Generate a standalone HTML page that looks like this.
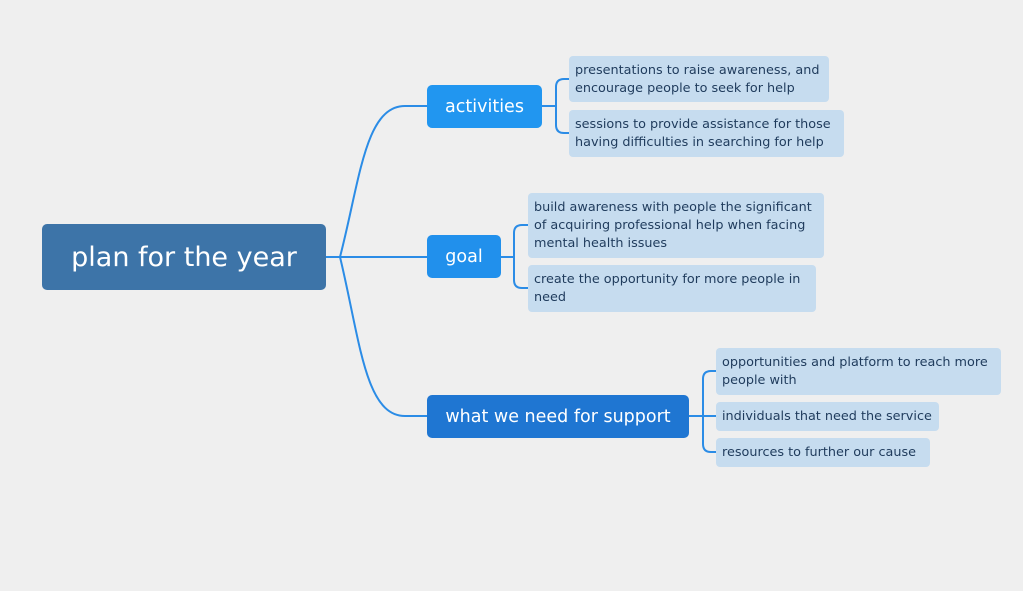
<!DOCTYPE html>
<html><head><meta charset="utf-8"><style>
body{margin:0;width:1023px;height:591px;background:#efefef;position:relative;overflow:hidden;font-family:"DejaVu Sans",sans-serif}
.b{position:absolute;border-radius:5px;color:#fff;display:flex;align-items:center;justify-content:center;box-sizing:border-box}
.l{position:absolute;background:#c6dcef;border-radius:4px;color:#1f3b5c;font-size:12.8px;line-height:18px;padding:6px 6px;box-sizing:border-box;white-space:nowrap}
</style></head><body>
<svg width="1023" height="591" style="position:absolute;left:0;top:0" fill="none" stroke="#2b8ce6" stroke-width="2">
<path d="M326 257 L427 257"/>
<path d="M340 257 C360 180 365 106 405 106 L427 106"/>
<path d="M340 257 C360 340 365 416 405 416 L427 416"/>
<path d="M542 106 L556 106 M569 79 L564 79 Q556 79 556 87 L556 125 Q556 133 564 133 L569 133"/>
<path d="M501 257 L514 257 M528 225 L522 225 Q514 225 514 233 L514 280 Q514 288 522 288 L528 288"/>
<path d="M689 416 L703 416 M716 371 L711 371 Q703 371 703 379 L703 444 Q703 452 711 452 L716 452 M703 416 L716 416"/>
</svg>
<div class="b" style="left:42px;top:224px;width:284px;height:66px;background:#3d74a8;font-size:27px">plan for the year</div>
<div class="b" style="left:427px;top:85px;width:115px;height:43px;background:#2196f0;font-size:17.5px">activities</div>
<div class="b" style="left:427px;top:235px;width:74px;height:43px;background:#2190ec;font-size:17.5px">goal</div>
<div class="b" style="left:427px;top:395px;width:262px;height:43px;background:#1f76d2;font-size:17.5px">what we need for support</div>
<div class="l" style="left:569px;top:56px;width:260px;height:46px">presentations to raise awareness, and<br>encourage people to seek for help</div>
<div class="l" style="left:569px;top:110px;width:275px;height:47px">sessions to provide assistance for those<br>having difficulties in searching for help</div>
<div class="l" style="left:528px;top:193px;width:296px;height:65px">build awareness with people the significant<br>of acquiring professional help when facing<br>mental health issues</div>
<div class="l" style="left:528px;top:265px;width:288px;height:47px">create the opportunity for more people in<br>need</div>
<div class="l" style="left:716px;top:348px;width:285px;height:47px">opportunities and platform to reach more<br>people with</div>
<div class="l" style="left:716px;top:402px;width:223px;height:29px">individuals that need the service</div>
<div class="l" style="left:716px;top:438px;width:214px;height:29px">resources to further our cause</div>
</body></html>
